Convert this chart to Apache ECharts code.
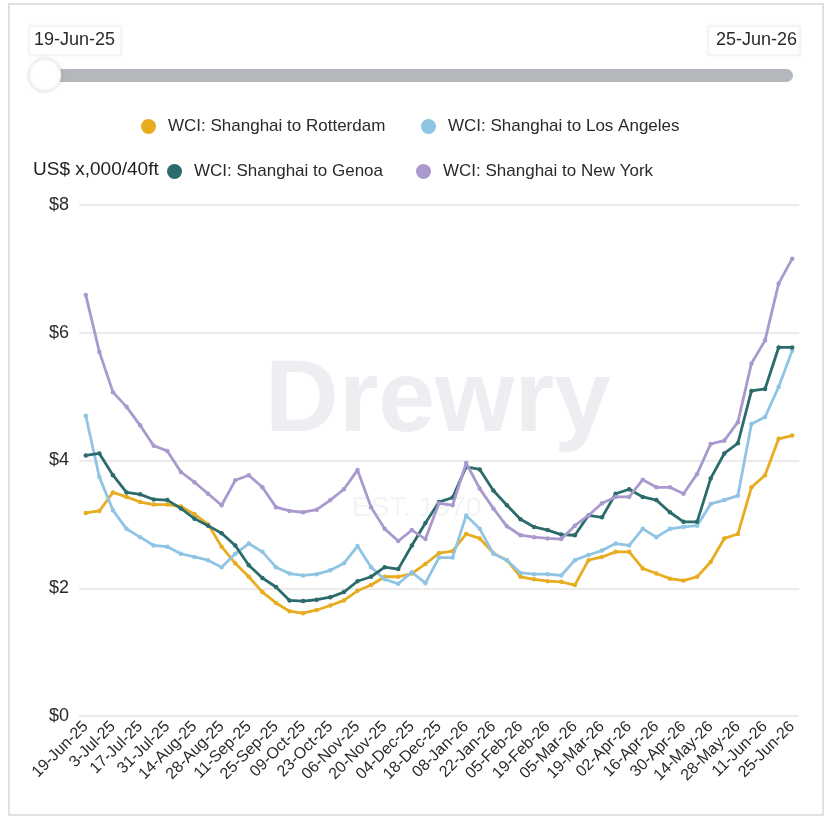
<!DOCTYPE html>
<html>
<head>
<meta charset="utf-8">
<script src="https://cdn.jsdelivr.net/npm/echarts@6/dist/echarts.min.js"></script>
<style>
html,body{margin:0;padding:0;background:#fff;}
#chart{width:830px;height:820px;}
</style>
</head>
<body>
<div id="chart"></div>
<script>
const categories = [
  '19-Jun-25','26-Jun-25','3-Jul-25','10-Jul-25','17-Jul-25','24-Jul-25','31-Jul-25','07-Aug-25',
  '14-Aug-25','21-Aug-25','28-Aug-25','04-Sep-25','11-Sep-25','18-Sep-25','25-Sep-25','02-Oct-25',
  '09-Oct-25','16-Oct-25','23-Oct-25','30-Oct-25','06-Nov-25','13-Nov-25','20-Nov-25','27-Nov-25',
  '04-Dec-25','11-Dec-25','18-Dec-25','25-Dec-25','08-Jan-26','15-Jan-26','22-Jan-26','29-Jan-26',
  '05-Feb-26','12-Feb-26','19-Feb-26','26-Feb-26','05-Mar-26','12-Mar-26','19-Mar-26','26-Mar-26',
  '02-Apr-26','09-Apr-26','16-Apr-26','23-Apr-26','30-Apr-26','07-May-26','14-May-26','21-May-26',
  '28-May-26','04-Jun-26','11-Jun-26','18-Jun-26','25-Jun-26'
];

const rotterdam = [
  3.18,3.21,3.50,3.43,3.35,3.31,3.31,3.28,3.16,3.00,2.65,2.39,2.18,1.94,1.77,1.64,
  1.61,1.66,1.73,1.81,1.96,2.05,2.18,2.18,2.23,2.38,2.55,2.58,2.85,2.78,2.55,2.44,
  2.18,2.14,2.11,2.10,2.05,2.44,2.49,2.57,2.57,2.31,2.23,2.15,2.12,2.18,2.41,2.78,
  2.85,3.58,3.77,4.34,4.39
];
const losAngeles = [
  4.70,3.74,3.22,2.93,2.80,2.67,2.65,2.54,2.49,2.44,2.33,2.54,2.70,2.57,2.33,2.23,
  2.20,2.22,2.28,2.39,2.66,2.33,2.14,2.07,2.25,2.08,2.48,2.48,3.14,2.93,2.54,2.44,
  2.24,2.22,2.22,2.20,2.44,2.52,2.59,2.70,2.67,2.93,2.80,2.93,2.96,2.98,3.32,3.38,
  3.45,4.57,4.68,5.15,5.72
];
const genoa = [
  4.08,4.11,3.77,3.50,3.47,3.39,3.38,3.25,3.09,2.98,2.86,2.67,2.36,2.16,2.02,1.81,
  1.80,1.82,1.86,1.94,2.11,2.18,2.33,2.30,2.67,3.02,3.35,3.42,3.90,3.86,3.53,3.30,
  3.08,2.96,2.91,2.84,2.83,3.14,3.11,3.48,3.55,3.43,3.38,3.19,3.04,3.04,3.72,4.11,
  4.27,5.09,5.12,5.77,5.77
];
const newYork = [
  6.59,5.70,5.07,4.84,4.55,4.23,4.15,3.82,3.66,3.48,3.30,3.69,3.77,3.58,3.27,3.21,
  3.19,3.23,3.38,3.55,3.85,3.27,2.93,2.74,2.91,2.77,3.33,3.30,3.96,3.56,3.25,2.97,
  2.83,2.80,2.78,2.77,2.98,3.14,3.33,3.43,3.43,3.70,3.58,3.58,3.48,3.79,4.26,4.31,
  4.60,5.52,5.88,6.77,7.16
];

const seriesNames = [
  'WCI: Shanghai to Rotterdam',
  'WCI: Shanghai to Los Angeles',
  'WCI: Shanghai to Genoa',
  'WCI: Shanghai to New York'
];
const seriesColors = ['#e8ac20', '#8fc4e4', '#2c6b6b', '#a999cf'];
const seriesData = [rotterdam, losAngeles, genoa, newYork];
const unitLabel = 'US$ x,000/40ft';
const yMin = 0, yMax = 8, yStep = 2;

const FONT = '"Liberation Sans", Arial, sans-serif';
const chart = echarts.init(document.getElementById('chart'), null, {renderer: 'canvas'});

const legendPos = [
  {left: 141, top: 118},
  {left: 421, top: 118},
  {left: 167, top: 163},
  {left: 416, top: 163}
];

const option = {
  backgroundColor: '#ffffff',
  animation: false,
  textStyle: {fontFamily: FONT},
  grid: {left: 79, right: 31, top: 205, bottom: 104, containLabel: false},
  legend: seriesNames.map((n, i) => ({
    data: [n],
    left: legendPos[i].left,
    top: legendPos[i].top,
    icon: 'circle',
    itemWidth: 15,
    itemHeight: 15,
    selectedMode: false,
    padding: 0,
    textStyle: {fontSize: 17, color: '#2a2a2a', fontFamily: FONT, padding: [0, 0, 0, 7]}
  })),
  xAxis: {
    type: 'category',
    data: categories,
    boundaryGap: true,
    axisLine: {show: false},
    axisTick: {show: false},
    axisLabel: {
      interval: 1,
      rotate: 45,
      margin: 8,
      fontSize: 16,
      color: '#2a2a2a',
      fontFamily: FONT
    },
    splitLine: {show: false}
  },
  yAxis: {
    type: 'value',
    min: yMin,
    max: yMax,
    interval: yStep,
    axisLine: {show: false},
    axisTick: {show: false},
    axisLabel: {
      formatter: v => '$' + v,
      fontSize: 18,
      color: '#2a2a2a',
      margin: 10,
      fontFamily: FONT
    },
    splitLine: {lineStyle: {color: '#e4e4e4', width: 1.5}}
  },
  series: seriesNames.map((n, i) => ({
    name: n,
    type: 'line',
    data: seriesData[i],
    color: seriesColors[i],
    symbol: 'circle',
    symbolSize: 4.5,
    showSymbol: true,
    lineStyle: {width: 2.8, color: seriesColors[i]},
    itemStyle: {color: seriesColors[i]},
    z: 3 + i
  })),
  graphic: [
    {type: 'rect', z: -10, shape: {x: 9, y: 4, width: 814, height: 811},
     style: {fill: 'none', stroke: '#d8d8d8', lineWidth: 1.5}},
    // watermark
    {type: 'text', z: -5, left: 265, top: 352,
     style: {text: 'Drewry', font: 'bold 102px ' + FONT, fill: '#eceef1'}},
    {type: 'text', z: -5, left: 352, top: 494,
     style: {text: 'EST. 1970', font: '28px ' + FONT, fill: '#f3f4f6'}},
    // range slider
    {type: 'rect', z: 1, shape: {x: 45, y: 69, width: 748, height: 13, r: 6.5},
     style: {fill: '#b4b7bb'}},
    {type: 'circle', z: 2, shape: {cx: 45, cy: 75, r: 16},
     style: {fill: '#ffffff', stroke: '#ececec', lineWidth: 1, shadowBlur: 4, shadowColor: 'rgba(0,0,0,0.12)'}},
    {type: 'rect', z: 1, shape: {x: 29, y: 26, width: 92, height: 29},
     style: {fill: '#ffffff', stroke: '#f0f0f0', lineWidth: 1, shadowBlur: 3, shadowColor: 'rgba(0,0,0,0.06)'}},
    {type: 'text', z: 2, left: 34, top: 31,
     style: {text: categories[0], font: '18px ' + FONT, fill: '#2a2a2a'}},
    {type: 'rect', z: 1, shape: {x: 708, y: 26, width: 92, height: 29},
     style: {fill: '#ffffff', stroke: '#f0f0f0', lineWidth: 1, shadowBlur: 3, shadowColor: 'rgba(0,0,0,0.06)'}},
    {type: 'text', z: 2, right: 33, top: 31,
     style: {text: categories[categories.length - 1], font: '18px ' + FONT, fill: '#2a2a2a'}},
    // unit label
    {type: 'text', z: 2, left: 33, top: 160,
     style: {text: unitLabel, font: '19px ' + FONT, fill: '#222'}}
  ]
};
chart.setOption(option);
</script>
</body>
</html>
